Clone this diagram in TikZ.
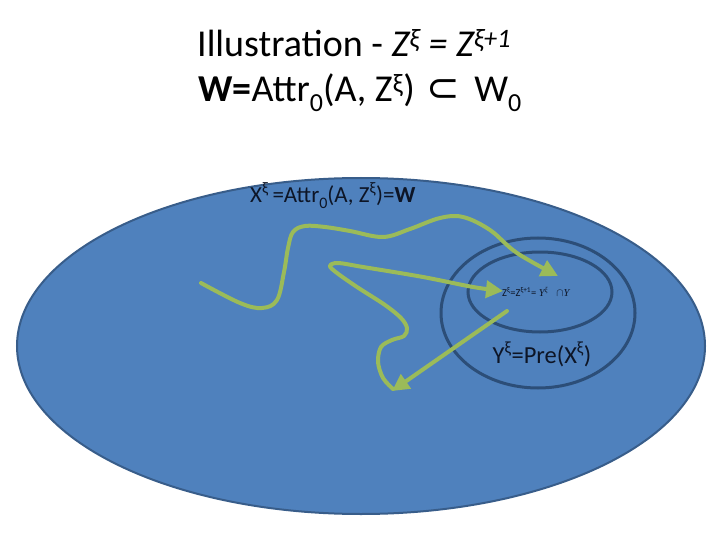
\documentclass[tikz,border=0pt]{standalone}
\usepackage{fontspec}
\setmainfont{Carlito}
\newfontfamily\symfont{DejaVu Sans}
\newfontfamily\mathish{Liberation Serif}
\usetikzlibrary{arrows.meta}
\definecolor{bigfill}{HTML}{4F81BD}
\definecolor{bigline}{HTML}{385D8A}
\definecolor{ringline}{HTML}{2C4E78}
\definecolor{grn}{HTML}{9BBB59}
\definecolor{txt}{HTML}{0D1526}
\newcommand{\lowsub}[2]{\raisebox{#1}{\fontsize{#2}{#2}\selectfont 0}}
\tikzset{
  flow/.style={draw=grn,line width=4pt,line cap=round,line join=round,-{Triangle[length=17pt,width=17pt]}},
  ring/.style={draw=ringline,line width=3pt},
  lbl/.style={text=txt,inner sep=0pt}
}
\begin{document}
\begin{tikzpicture}[x=1pt,y=-1pt]
\useasboundingbox (0,0) rectangle (720,540);
\fill[white] (0,0) rectangle (720,540);
% title
\node[anchor=base west,inner sep=0pt,font=\fontsize{38}{44}\selectfont] (t1) at (197,57) {Illustration - \textit{Z\textsuperscript{ξ} = Z\textsuperscript{ξ+1}}};
\node[anchor=base west,inner sep=0pt,font=\fontsize{38}{44}\selectfont] (t2) at (198,102) {\textbf{W=}Attr\lowsub{-10pt}{26}(A, Z\textsuperscript{ξ})\hspace{12pt}{\symfont\fontsize{40}{44}\selectfont ⊂}\hspace{14pt}W\lowsub{-10pt}{26}};
% ellipses
\draw[bigline,line width=2pt,fill=bigfill] (361,346) ellipse [x radius=344,y radius=168];
\draw[ring] (538,313) ellipse [x radius=97,y radius=75];
\draw[ring] (540,292) ellipse [x radius=72,y radius=40];
\coordinate (big) at (361,346);
\coordinate (mid) at (538,313);
\coordinate (inner) at (540,292);
% labels
\node[lbl,anchor=base west,font=\fontsize{23}{26}\selectfont] (xl) at (250,203) {X\textsuperscript{ξ}\,=Attr\lowsub{-6pt}{16}(A, Z\textsuperscript{ξ})=\textbf{W}};
\node[lbl,anchor=base,font=\fontsize{24.5}{28}\selectfont] (yl) at (542,363) {Y\textsuperscript{ξ}=Pre(X\textsuperscript{ξ})};
\node[lbl,anchor=base west,font=\fontsize{10.5}{12}\selectfont] (zl) at (502,296) {Z\textsuperscript{ξ}=Z\textsuperscript{ξ+1}= {\mathish\itshape Y\textsuperscript{ξ}}\hspace{8pt}$\cap${\mathish\itshape Y}};
% endpoints
\coordinate (s1) at (201,283);
\coordinate (e1) at (558,276);
\coordinate (s2) at (507,311);
\coordinate (e2) at (392,391);
\coordinate (s3) at (393,389);
\coordinate (e3) at (503,291);
\draw[flow] plot[smooth,tension=0.6] coordinates {(s1) (240,303) (262,308) (277,300) (284,272) (288,248) (293,232) (305,226) (325,227) (350,231) (383,237) (410,229) (440,218) (463,217) (490,230) (517,253) (e1)};
\draw[flow] (s2) -- (e2);
\draw[flow] plot[smooth,tension=0.55] coordinates {(s3) (383,378) (378,362) (381,347) (392,340) (404,336) (407,328) (401,318) (385,305) (357,287) (337,273) (330,266) (338,263) (363,267) (423,277) (473,287) (e3)};
\end{tikzpicture}
\end{document}
